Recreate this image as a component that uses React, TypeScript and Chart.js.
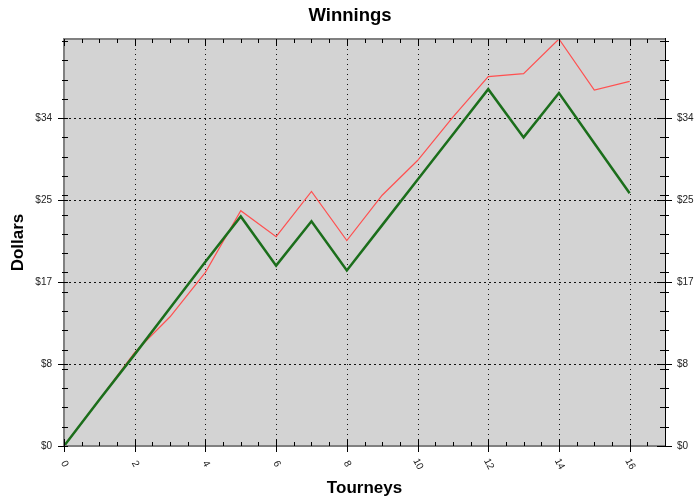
import { useEffect, useRef } from 'react';
import { Chart, registerables } from 'chart.js';

Chart.register(...registerables);

const tourneys = [0, 1, 2, 3, 4, 5, 6, 7, 8, 9, 10, 11, 12, 13, 14, 15, 16];
const grossWinnings = [0, 4.8, 9.7, 13.4, 18.0, 24.4, 21.7, 26.4, 21.3, 26.0, 29.6, 34.1, 38.3, 38.6, 42.2, 36.9, 37.8];
const netWinnings = [0, 4.8, 9.5, 14.3, 19.1, 23.8, 18.7, 23.3, 18.2, 22.9, 27.6, 32.3, 37.0, 32.0, 36.6, 31.4, 26.2];
const xMajorTicks = [0, 2, 4, 6, 8, 10, 12, 14, 16];
const yMajorTicks = [0, 8.5, 17, 25.5, 34];
const xMinorStep = 0.5;
const yMinorStep = 2;
const xMax = 17;
const yMax = 42.2;

const FONT = '"Liberation Sans", Arial, sans-serif';

const framePlugin = {
  id: 'frame',
  beforeDatasetsDraw(chart: any) {
    const { ctx, chartArea: a, scales } = chart;
    const xs = scales.x;
    const ys = scales.y;
    ctx.save();
    ctx.fillStyle = '#d3d3d3';
    ctx.fillRect(a.left, a.top, a.right - a.left, a.bottom - a.top);
    ctx.strokeStyle = '#111';
    ctx.lineWidth = 1;
    ctx.setLineDash([1, 4]);
    for (const v of xMajorTicks) {
      if (v === 0) continue;
      const px = Math.round(xs.getPixelForValue(v)) + 0.5;
      ctx.beginPath();
      ctx.moveTo(px, a.top);
      ctx.lineTo(px, a.bottom);
      ctx.stroke();
    }
    ctx.setLineDash([2, 3]);
    for (const v of yMajorTicks) {
      if (v === 0) continue;
      const py = Math.round(ys.getPixelForValue(v)) + 0.5;
      ctx.beginPath();
      ctx.moveTo(a.left, py);
      ctx.lineTo(a.right, py);
      ctx.stroke();
    }
    ctx.restore();
  },
  afterDatasetsDraw(chart: any) {
    const { ctx, chartArea: a, scales } = chart;
    const xs = scales.x;
    const ys = scales.y;
    ctx.save();
    ctx.fillStyle = '#808080';
    ctx.fillRect(a.left - 1, a.top - 1, a.right - a.left + 1, 2);
    ctx.fillRect(a.left - 1, a.top - 1, 2, a.bottom - a.top + 2);
    ctx.fillRect(a.left - 1, a.bottom - 1, a.right - a.left + 2, 2);
    ctx.fillStyle = '#000';
    ctx.fillRect(a.right, a.top - 1, 1, a.bottom - a.top + 2);

    ctx.strokeStyle = '#000';
    ctx.lineWidth = 1;
    const seg = (x1: number, y1: number, x2: number, y2: number) => {
      ctx.beginPath();
      ctx.moveTo(x1, y1);
      ctx.lineTo(x2, y2);
      ctx.stroke();
    };
    for (let i = 0; i * xMinorStep <= xMax + 1e-9; i++) {
      const v = i * xMinorStep;
      if (xMajorTicks.includes(v)) continue;
      const px = Math.round(xs.getPixelForValue(v)) + 0.5;
      seg(px, a.bottom - 4, px, a.bottom);
      seg(px, a.top, px, a.top + 4);
    }
    for (const v of xMajorTicks) {
      const px = Math.round(xs.getPixelForValue(v)) + 0.5;
      seg(px, a.bottom - 7, px, a.bottom + 6);
      seg(px, a.top, px, a.top + 7);
    }
    for (let i = 0; i * yMinorStep <= yMax + 1e-9; i++) {
      const v = i * yMinorStep;
      const py = Math.round(ys.getPixelForValue(v)) + 0.5;
      seg(a.left - 2, py, a.left + 4, py);
      seg(a.right - 5, py, a.right + 4, py);
    }
    for (const v of yMajorTicks) {
      const py = Math.round(ys.getPixelForValue(v)) + 0.5;
      seg(a.left - 6, py, a.left + 4, py);
      seg(a.right - 8, py, a.right + 7, py);
    }
    ctx.fillStyle = '#222';
    ctx.font = `10px ${FONT}`;
    ctx.textAlign = 'center';
    ctx.textBaseline = 'middle';
    for (const v of xMajorTicks) {
      const px = xs.getPixelForValue(v);
      ctx.save();
      ctx.translate(px + 0.5, a.bottom + 18);
      ctx.rotate((62 * Math.PI) / 180);
      ctx.fillText(String(v), 0, 0);
      ctx.restore();
    }
    ctx.restore();
  },
};

export default function App() {
  const canvasRef = useRef<HTMLCanvasElement | null>(null);

  useEffect(() => {
    document.body.style.margin = '0';
    const canvas = canvasRef.current;
    if (!canvas) return;
    const tickFont = { family: FONT, size: 10 };
    const yTicks = {
      font: tickFont,
      color: '#222',
      padding: 12,
      callback: (v: any) => '$' + Math.floor(Number(v)),
    };
    const chart = new Chart(canvas, {
      type: 'line',
      data: {
        datasets: [
          {
            label: 'Net',
            data: tourneys.map((t, i) => ({ x: t, y: netWinnings[i] })),
            borderColor: '#1b6e1b',
            borderWidth: 2.5,
            pointRadius: 0,
            tension: 0,
            fill: false,
            order: 0,
          },
          {
            label: 'Gross',
            data: tourneys.map((t, i) => ({ x: t, y: grossWinnings[i] })),
            borderColor: '#ff5050',
            borderWidth: 1.2,
            pointRadius: 0,
            tension: 0,
            fill: false,
            order: 1,
          },
        ],
      },
      options: {
        responsive: false,
        animation: false,
        devicePixelRatio: 1,
        layout: { padding: 0 },
        plugins: {
          legend: { display: false },
          tooltip: { enabled: false },
          title: {
            display: true,
            text: 'Winnings',
            color: '#000',
            font: { family: FONT, size: 18.5, weight: 'bold' },
            padding: { top: 5, bottom: 11.8 },
          },
        },
        scales: {
          x: {
            type: 'linear',
            position: 'bottom',
            min: 0,
            max: xMax,
            afterBuildTicks: (s: any) => {
              s.ticks = xMajorTicks.map((v) => ({ value: v }));
            },
            afterFit: (s: any) => {
              s.height = 56;
            },
            ticks: { display: false },
            grid: { display: false, drawTicks: false },
            border: { display: false },
            title: {
              display: true,
              text: 'Tourneys',
              color: '#000',
              font: { family: FONT, size: 17, weight: 'bold' },
              padding: { top: 0, bottom: 3.8 },
            },
          },
          y: {
            type: 'linear',
            position: 'left',
            min: 0,
            max: yMax,
            afterBuildTicks: (s: any) => {
              s.ticks = yMajorTicks.map((v) => ({ value: v }));
            },
            afterFit: (s: any) => {
              s.width = 64;
            },
            ticks: yTicks,
            grid: { display: false, drawTicks: false },
            border: { display: false },
            title: {
              display: true,
              text: 'Dollars',
              color: '#000',
              font: { family: FONT, size: 17, weight: 'bold' },
              padding: { top: 8, bottom: 0 },
            },
          },
          y2: {
            type: 'linear',
            position: 'right',
            min: 0,
            max: yMax,
            afterBuildTicks: (s: any) => {
              s.ticks = yMajorTicks.map((v) => ({ value: v }));
            },
            afterFit: (s: any) => {
              s.width = 35;
            },
            ticks: yTicks,
            grid: { display: false, drawTicks: false },
            border: { display: false },
          },
        },
      } as any,
      plugins: [framePlugin],
    });
    return () => chart.destroy();
  }, []);

  return (
    <div style={{ width: 700, height: 502 }}>
      <canvas ref={canvasRef} width={700} height={502} style={{ display: 'block' }} />
    </div>
  );
}
